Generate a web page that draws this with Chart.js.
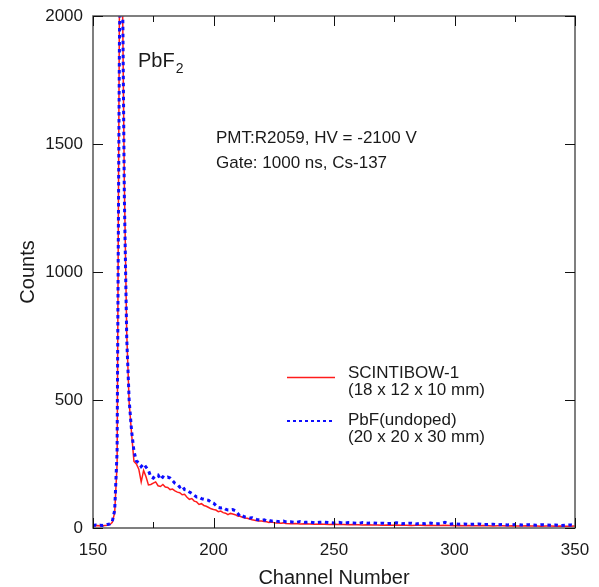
<!DOCTYPE html>
<html>
<head>
<meta charset="utf-8">
<script src="https://cdn.jsdelivr.net/npm/chart.js@4/dist/chart.umd.min.js"></script>
<style>
html,body{margin:0;padding:0;background:#fff;}
#wrap{width:599px;height:587px;}
</style>
</head>
<body>
<div id="wrap"><canvas id="c" width="599" height="587"></canvas></div>
<script>
// ---- data ----
const channels = [
150,151,152,153,154,155,156,157,158,159,
160,161,162,163,164,165,166,167,168,169,
170,171,172,173,174,175,176,177,178,179,
180,181,182,183,184,185,186,187,188,189,
190,191,192,193,194,195,196,197,198,199,
200,201,202,203,204,205,206,207,208,209,
210,211,212,213,214,215,216,217,218,219,
220,221,222,223,224,225,226,227,228,229,
230,232,234,236,238,240,242,244,246,248,
250,252,254,256,258,260,262,264,266,268,
270,272,274,276,278,280,282,284,286,288,
290,292,294,296,298,300,302,304,306,308,
310,312,314,316,318,320,322,324,326,328,
330,332,334,336,338,340,342,344,346,348,
350
];
const pbfUndoped = [
10,12,9,11,10,12,14,16,25,70,
300,1940,2400,1300,740,500,380,300,262,255,
240,250,238,225,200,195,205,207,190,200,
195,199,195,185,175,170,160,165,150,148,
141,135,128,121,121,115,112,110,108,100,
97,88,80,78,80,74,70,70,72,68,
58,45,48,43,42,39,40,36,33,31,
30,32,28,30,27,28,27,25,26,27,
24,24,22,25,22,23,20,22,23,21,
20,22,19,21,20,18,21,19,20,18,
19,17,18,20,17,18,19,16,18,17,
19,16,17,22,15,17,15,16,14,15,
16,13,14,15,13,14,12,13,14,12,
13,12,11,13,12,11,12,10,11,12,
10
];
const scintibow = [
8,9,10,8,9,10,11,13,22,60,
250,2100,2300,1350,760,490,370,260,250,230,
180,225,200,168,170,175,180,165,162,170,
160,158,150,152,145,140,138,130,132,120,
112,115,105,102,92,95,88,85,80,75,
72,70,64,66,60,58,52,57,55,52,
47,46,42,39,38,35,32,30,28,27,
27,25,24,22,23,21,20,20,19,20,
18,17,18,16,17,16,15,16,15,14,
15,14,14,13,14,13,12,13,12,12,
11,12,11,12,11,11,10,11,11,10,
11,10,10,11,10,9,10,9,10,9,
9,10,9,8,9,9,8,9,8,8,
9,8,8,7,8,8,7,8,7,7,
8
];
const xTicks = [150, 200, 250, 300, 350];
const xMinorTicks = [175, 225, 275, 325];
const yTicks = [0, 500, 1000, 1500, 2000];
const seriesNames = ['SCINTIBOW-1', 'PbF(undoped)'];
const seriesSizes = ['(18 x 12 x 10 mm)', '(20 x 20 x 30 mm)'];

const FONT = '"Liberation Sans", Arial, Helvetica, sans-serif';
const RED = '#ff1c1c';
const BLUE = '#0d0dff';

const overlay = {
  id: 'overlay',
  afterDraw(chart) {
    const ctx = chart.ctx;
    const a = chart.chartArea;
    const xs = chart.scales.x, ys = chart.scales.y;
    ctx.save();
    // frame
    ctx.strokeStyle = '#555';
    ctx.lineWidth = 1.5;
    ctx.strokeRect(a.left, a.top, a.right - a.left, a.bottom - a.top);
    // ticks
    ctx.strokeStyle = '#111';
    ctx.lineWidth = 1;
    const major = 10, minor = 6;
    const vt = (v, len) => {
      const px = Math.round(xs.getPixelForValue(v)) + 0.5;
      ctx.beginPath();
      ctx.moveTo(px, a.bottom); ctx.lineTo(px, a.bottom - len);
      ctx.moveTo(px, a.top); ctx.lineTo(px, a.top + len);
      ctx.stroke();
    };
    xTicks.forEach(v => vt(v, major));
    xMinorTicks.forEach(v => vt(v, minor));
    yTicks.forEach(v => {
      const py = Math.round(ys.getPixelForValue(v)) + 0.5;
      ctx.beginPath();
      ctx.moveTo(a.left, py); ctx.lineTo(a.left + major, py);
      ctx.moveTo(a.right, py); ctx.lineTo(a.right - major, py);
      ctx.stroke();
    });
    // annotations
    ctx.fillStyle = '#1a1a1a';
    ctx.textBaseline = 'alphabetic';
    ctx.textAlign = 'left';
    ctx.font = '20px ' + FONT;
    ctx.fillText('PbF', 138, 67);
    const w = ctx.measureText('PbF').width;
    ctx.font = '14px ' + FONT;
    ctx.fillText('2', 138 + w + 1, 73);
    ctx.font = '17px ' + FONT;
    ctx.fillText('PMT:R2059, HV = -2100 V', 216, 143);
    ctx.fillText('Gate: 1000 ns, Cs-137', 216, 168);
    // legend
    ctx.fillText(seriesNames[0], 348, 378);
    ctx.fillText(seriesSizes[0], 348, 395);
    ctx.fillText(seriesNames[1], 348, 425);
    ctx.fillText(seriesSizes[1], 348, 442);
    ctx.strokeStyle = RED; ctx.lineWidth = 1.5;
    ctx.beginPath(); ctx.moveTo(287, 377.5); ctx.lineTo(335, 377.5); ctx.stroke();
    ctx.strokeStyle = BLUE; ctx.lineWidth = 2; ctx.setLineDash([3, 3]);
    ctx.beginPath(); ctx.moveTo(287, 421); ctx.lineTo(335, 421); ctx.stroke();
    ctx.restore();
  }
};

new Chart(document.getElementById('c'), {
  type: 'line',
  data: {
    datasets: [
      {
        label: seriesNames[1],
        data: channels.map((c, i) => ({x: c, y: pbfUndoped[i]})),
        borderColor: BLUE,
        borderWidth: 3,
        borderDash: [3.5, 3.5],
        pointRadius: 0,
        tension: 0,
        order: 0
      },
      {
        label: seriesNames[0],
        data: channels.map((c, i) => ({x: c, y: scintibow[i]})),
        borderColor: RED,
        borderWidth: 1.5,
        pointRadius: 0,
        tension: 0,
        order: 1
      }
    ]
  },
  options: {
    responsive: false,
    animation: false,
    layout: {padding: {left: 0, right: 24, top: 16, bottom: 0}},
    plugins: {legend: {display: false}, tooltip: {enabled: false}},
    scales: {
      x: {
        type: 'linear', min: 150, max: 350,
        grid: {display: false, drawTicks: false},
        border: {display: false},
        ticks: {stepSize: 50, padding: 12, color: '#1a1a1a', font: {family: FONT, size: 17}, maxRotation: 0,
                callback: v => String(v)},
        title: {display: true, text: 'Channel Number', color: '#1a1a1a', font: {family: FONT, size: 20}, padding: {top: 0, bottom: -3}},
        afterFit(s) { s.height = 59; s.paddingLeft = 0; s.paddingRight = 0; }
      },
      y: {
        min: 0, max: 2000,
        grid: {display: false, drawTicks: false},
        border: {display: false},
        ticks: {stepSize: 500, padding: 10, color: '#1a1a1a', font: {family: FONT, size: 17},
                callback: v => String(v)},
        title: {display: true, text: 'Counts', color: '#1a1a1a', font: {family: FONT, size: 20}, padding: {top: 16, bottom: 0}},
        afterFit(s) { s.width = 93; s.paddingTop = 0; s.paddingBottom = 0; }
      }
    }
  },
  plugins: [overlay]
});
</script>
</body>
</html>
